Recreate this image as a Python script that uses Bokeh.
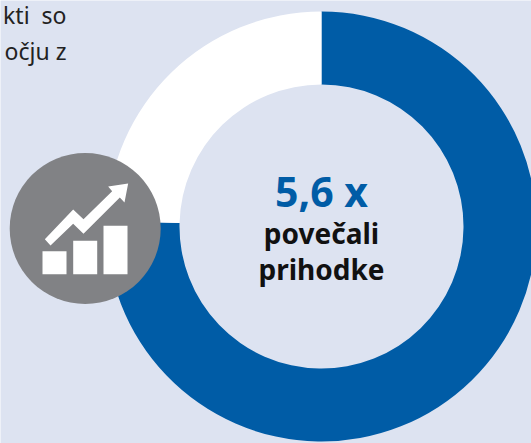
from math import pi
from bokeh.plotting import figure
from bokeh.models import Range1d
from bokeh.core.properties import value
from bokeh.embed import file_html
from bokeh.resources import INLINE

# Data
segment_names = ["povečali prihodke", "ostalo"]
segment_values = [75.4, 24.6]
segment_colors = ["#005ca6", "#ffffff"]
center_value = "5,6 x"
center_lines = ["povečali", "prihodke"]
intro_lines = ["kti\u00a0\u00a0so", "očju z"]
bar_heights = [23, 33.5, 48.5]

BG, GREY = "#dde3f1", "#818285"
H = 443
def Y(py):
    return H - py

p = figure(width=531, height=443, output_backend="svg", toolbar_location=None,
           x_range=Range1d(0, 531), y_range=Range1d(0, 443),
           x_axis_type=None, y_axis_type=None, min_border=0, outline_line_color=None,
           background_fill_color=BG, border_fill_color=BG)
p.grid.visible = False

# Donut, clockwise from 12 o'clock
cx, cy, r_in, r_out = 321, Y(226), 142, 215
total = sum(segment_values)
start = pi / 2
for v, c in zip(segment_values, segment_colors):
    end = start - 2 * pi * v / total
    p.annular_wedge(x=[cx], y=[cy], inner_radius=r_in, outer_radius=r_out,
                    start_angle=end, end_angle=start, fill_color=c, line_color=None)
    start = end

# Icon
p.scatter(x=[84.7], y=[Y(228)], size=151, marker="circle", fill_color=GREY, line_color=None)
arrow = [(133,296),(218,207),(249,236),(335,152),(323,138),(383,129),(372,186),(358,171),(249,280),(218,250),(150,315)]
p.patch([a / 3 for a, _ in arrow], [Y(140 + b / 3) for _, b in arrow], fill_color="white", line_color=None)
base = Y(273.7)
p.vbar(x=[54, 84.7, 115], width=24, bottom=base, top=[base + h for h in bar_heights],
       fill_color="white", line_color=None)

# Texts
font = value("Noto Sans")
p.text(x=[321], y=[Y(190)], text=[center_value], text_font=font, text_font_style="bold",
       text_font_size="41px", text_color="#005ca6", text_align="center", text_baseline="alphabetic")
for t, py in zip(center_lines, [232, 268]):
    p.text(x=[321], y=[Y(py)], text=[t], text_font=font, text_font_style="bold",
           text_font_size="28px", text_color="#111111", text_align="center", text_baseline="alphabetic")
for t, py in zip(intro_lines, [14, 50]):
    p.text(x=[66], y=[Y(py)], text=[t], text_font=font, text_font_size="23px",
           text_color="#222222", text_align="right", text_baseline="alphabetic")

open("out.html", "w").write(file_html(p, INLINE))
